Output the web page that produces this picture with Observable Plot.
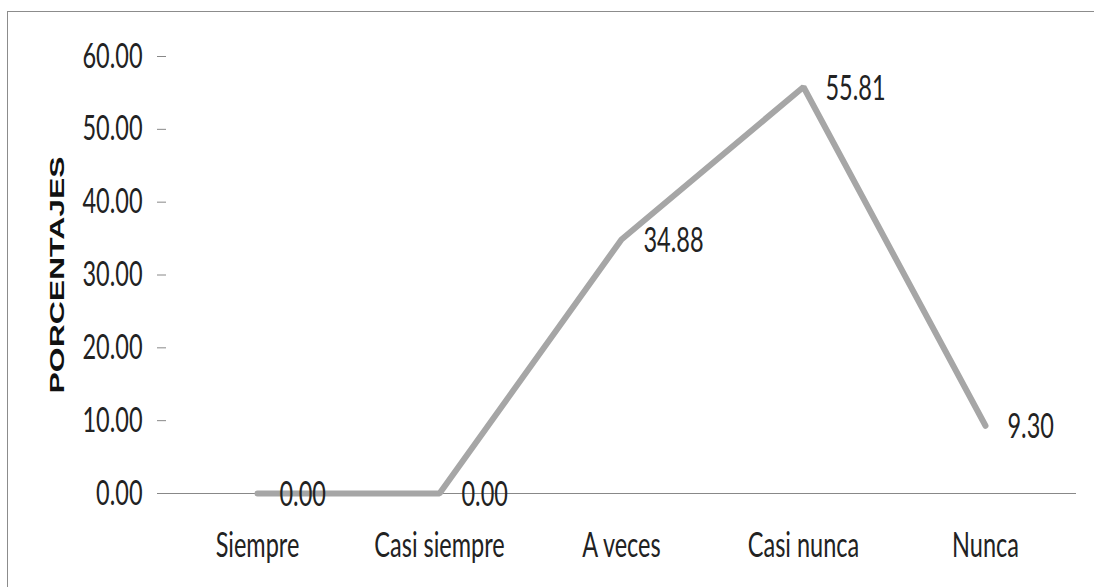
<!DOCTYPE html>
<html>
<head>
<meta charset="utf-8">
<script src="https://cdn.jsdelivr.net/npm/d3@7"></script>
<script src="https://cdn.jsdelivr.net/npm/@observablehq/plot@0.6"></script>
<style>
  html, body { margin: 0; padding: 0; background: #fff; }
  #wrap { position: relative; width: 1094px; height: 587px; overflow: hidden; }
  #border { position: absolute; left: 7px; top: 11px; width: 1200px; height: 700px;
            border-top: 1.5px solid #8c8c8c; border-left: 1.5px solid #8c8c8c; pointer-events: none; }
</style>
</head>
<body>
<div id="wrap"><div id="border"></div></div>
<script>
const categories = ["Siempre", "Casi siempre", "A veces", "Casi nunca", "Nunca"];
const values = [0.00, 0.00, 34.88, 55.81, 9.30];
const yTicks = [0, 10, 20, 30, 40, 50, 60];
const yTitle = "PORCENTAJES";

const data = categories.map((c, i) => ({cat: c, val: values[i]}));
const fmt = d3.format(".2f");
const FONT = "Lato, 'Open Sans', 'DejaVu Sans Condensed', sans-serif";

const chart = Plot.plot({
  width: 1094,
  height: 587,
  marginLeft: 166,
  marginRight: 18,
  marginTop: 56,
  marginBottom: 94,
  style: {fontFamily: FONT, fontSize: "27px", color: "#222", background: "transparent"},
  x: {type: "point", domain: categories, padding: 0.5, label: null},
  y: {domain: [0, 60], label: null},
  marks: [
    Plot.ruleY([0], {stroke: "#888", strokeWidth: 1.2}),
    Plot.axisY({ticks: yTicks, tickFormat: fmt, tickSize: 9, tickPadding: 15, stroke: "#888", fill: "#222", line: true, label: null}),
    Plot.axisX({tickSize: 0, tickPadding: 39, fill: "#222", label: null}),
    Plot.line(data, {x: "cat", y: "val", stroke: "#a6a6a6", strokeWidth: 6, strokeLinejoin: "miter", strokeLinecap: "round"}),
    Plot.text(data, {x: "cat", y: "val", text: d => fmt(d.val), dx: 22, dy: 1.5, textAnchor: "start", fill: "#222"}),
    Plot.text([yTitle], {frameAnchor: "left", text: d => d, rotate: -90, dx: -109, textAnchor: "middle", fontWeight: "bold",
      fontFamily: "'Liberation Sans', Arial, sans-serif", fontSize: 21, fill: "#111"})
  ]
});

// Stretch text to match the reference's tall, narrow lettering (scale about each text's anchor)
chart.querySelectorAll("text").forEach(t => {
  const tr = t.getAttribute("transform") || "";
  const s = t.textContent === yTitle ? "scale(1.52,1)" : "scale(0.87,1.29)";
  t.setAttribute("transform", `${tr} ${s}`);
});

chart.style.position = "absolute";
chart.style.left = "0";
chart.style.top = "0";
document.getElementById("wrap").prepend(chart);
</script>
</body>
</html>
